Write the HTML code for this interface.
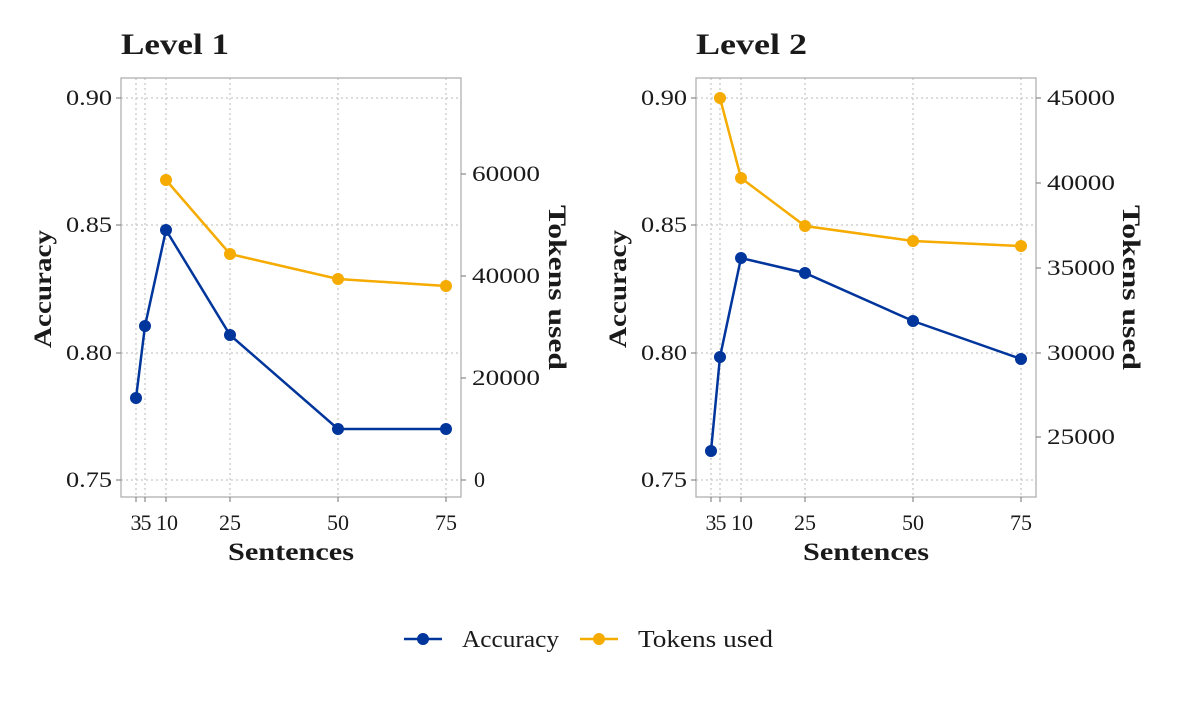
<!DOCTYPE html>
<html><head><style>body{margin:0;background:#fff}svg{display:block}text{font-family:"Liberation Serif",serif;fill:#1a1a1a}</style></head><body>
<svg width="1181" height="709" viewBox="0 0 1181 709">
<defs>
<g id="grid">
<g stroke="#c8c8c8" stroke-width="1.3" stroke-dasharray="2,3">
<line x1="121" x2="461" y1="98" y2="98"/><line x1="121" x2="461" y1="225" y2="225"/><line x1="121" x2="461" y1="353" y2="353"/><line x1="121" x2="461" y1="480" y2="480"/>
<line x1="136" x2="136" y1="78" y2="497"/><line x1="145" x2="145" y1="78" y2="497"/><line x1="166" x2="166" y1="78" y2="497"/><line x1="230" x2="230" y1="78" y2="497"/><line x1="338" x2="338" y1="78" y2="497"/><line x1="446" x2="446" y1="78" y2="497"/>
</g>
<rect x="121" y="78" width="340" height="419" fill="none" stroke="#b0b0b0" stroke-width="1.3"/>
<g stroke="#888" stroke-width="1.2">
<line x1="116" x2="121" y1="98" y2="98"/><line x1="116" x2="121" y1="225" y2="225"/><line x1="116" x2="121" y1="353" y2="353"/><line x1="116" x2="121" y1="480" y2="480"/>
<line x1="136" x2="136" y1="497" y2="502"/><line x1="145" x2="145" y1="497" y2="502"/><line x1="166" x2="166" y1="497" y2="502"/><line x1="230" x2="230" y1="497" y2="502"/><line x1="338" x2="338" y1="497" y2="502"/><line x1="446" x2="446" y1="497" y2="502"/>
</g>
<g font-size="22" lengthAdjust="spacingAndGlyphs">
<text x="66" y="105" textLength="46" lengthAdjust="spacingAndGlyphs">0.90</text><text x="66" y="232" textLength="46" lengthAdjust="spacingAndGlyphs">0.85</text><text x="66" y="360" textLength="46" lengthAdjust="spacingAndGlyphs">0.80</text><text x="66" y="487" textLength="46" lengthAdjust="spacingAndGlyphs">0.75</text>
</g>
<g font-size="22" text-anchor="middle">
<text x="136" y="530">3</text><text x="146" y="530">5</text><text x="167" y="530">10</text><text x="230" y="530">25</text><text x="338" y="530">50</text><text x="446" y="530">75</text>
</g>
<text x="228" y="560" font-size="25" font-weight="bold" textLength="126" lengthAdjust="spacingAndGlyphs">Sentences</text>
<text transform="translate(51,348) rotate(-90)" font-size="25" font-weight="bold" textLength="118" lengthAdjust="spacingAndGlyphs">Accuracy</text>
</g>
</defs>
<use href="#grid"/>
<use href="#grid" transform="translate(575,0)"/>
<text x="121" y="54" font-size="30" font-weight="bold" textLength="108" lengthAdjust="spacingAndGlyphs">Level 1</text>
<text x="696" y="54" font-size="30" font-weight="bold" textLength="111" lengthAdjust="spacingAndGlyphs">Level 2</text>
<g stroke="#888" stroke-width="1.2"><line x1="461" x2="466" y1="174" y2="174"/><line x1="461" x2="466" y1="276" y2="276"/><line x1="461" x2="466" y1="378" y2="378"/><line x1="461" x2="466" y1="480" y2="480"/>
<line x1="1036" x2="1041" y1="98" y2="98"/><line x1="1036" x2="1041" y1="183" y2="183"/><line x1="1036" x2="1041" y1="268" y2="268"/><line x1="1036" x2="1041" y1="353" y2="353"/><line x1="1036" x2="1041" y1="437" y2="437"/></g>
<g font-size="22"><text x="472" y="181" textLength="68" lengthAdjust="spacingAndGlyphs">60000</text><text x="472" y="283" textLength="68" lengthAdjust="spacingAndGlyphs">40000</text><text x="472" y="385" textLength="68" lengthAdjust="spacingAndGlyphs">20000</text><text x="474" y="487">0</text>
<text x="1047" y="105" textLength="68" lengthAdjust="spacingAndGlyphs">45000</text><text x="1047" y="190" textLength="68" lengthAdjust="spacingAndGlyphs">40000</text><text x="1047" y="275" textLength="68" lengthAdjust="spacingAndGlyphs">35000</text><text x="1047" y="360" textLength="68" lengthAdjust="spacingAndGlyphs">30000</text><text x="1047" y="444" textLength="68" lengthAdjust="spacingAndGlyphs">25000</text></g>
<text transform="translate(549,205) rotate(90)" font-size="25" font-weight="bold" textLength="165" lengthAdjust="spacingAndGlyphs">Tokens used</text>
<text transform="translate(1123,205) rotate(90)" font-size="25" font-weight="bold" textLength="165" lengthAdjust="spacingAndGlyphs">Tokens used</text>
<g fill="#f5ab00" stroke="#f5ab00" stroke-width="2.5"><polyline fill="none" points="166,180 230,254 338,279 446,286"/>
<g stroke="none"><circle cx="166" cy="180" r="6"/><circle cx="230" cy="254" r="6"/><circle cx="338" cy="279" r="6"/><circle cx="446" cy="286" r="6"/></g></g>
<g fill="#00359c" stroke="#00359c" stroke-width="2.5"><polyline fill="none" points="136,398 145,326 166,230 230,335 338,429 446,429"/>
<g stroke="none"><circle cx="136" cy="398" r="6"/><circle cx="145" cy="326" r="6"/><circle cx="166" cy="230" r="6"/><circle cx="230" cy="335" r="6"/><circle cx="338" cy="429" r="6"/><circle cx="446" cy="429" r="6"/></g></g>
<g fill="#f5ab00" stroke="#f5ab00" stroke-width="2.5"><polyline fill="none" points="720,98 741,178 805,226 913,241 1021,246"/>
<g stroke="none"><circle cx="720" cy="98" r="6"/><circle cx="741" cy="178" r="6"/><circle cx="805" cy="226" r="6"/><circle cx="913" cy="241" r="6"/><circle cx="1021" cy="246" r="6"/></g></g>
<g fill="#00359c" stroke="#00359c" stroke-width="2.5"><polyline fill="none" points="711,451 720,357 741,258 805,273 913,321 1021,359"/>
<g stroke="none"><circle cx="711" cy="451" r="6"/><circle cx="720" cy="357" r="6"/><circle cx="741" cy="258" r="6"/><circle cx="805" cy="273" r="6"/><circle cx="913" cy="321" r="6"/><circle cx="1021" cy="359" r="6"/></g></g>
<line x1="404" x2="442" y1="639" y2="639" stroke="#00359c" stroke-width="2.5"/><circle cx="423" cy="639" r="6" fill="#00359c"/>
<text x="462" y="647" font-size="24" textLength="97" lengthAdjust="spacingAndGlyphs">Accuracy</text>
<line x1="580" x2="618" y1="639" y2="639" stroke="#f5ab00" stroke-width="2.5"/><circle cx="599" cy="639" r="6" fill="#f5ab00"/>
<text x="638" y="647" font-size="24" textLength="135" lengthAdjust="spacingAndGlyphs">Tokens used</text>
</svg>
</body></html>
